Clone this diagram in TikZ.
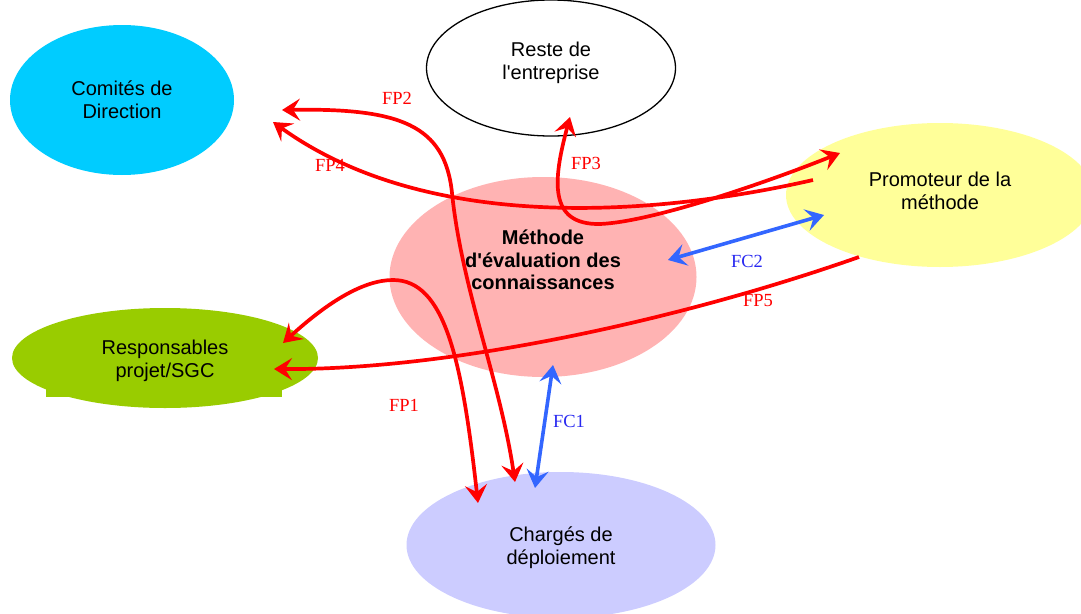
\documentclass[tikz,border=0pt]{standalone}
\usepackage{fontspec}
\setmainfont{Liberation Sans}
\newfontfamily\labelfont{Liberation Serif}
\usetikzlibrary{arrows.meta,shapes.geometric}
\definecolor{comcol}{HTML}{00CCFF}
\definecolor{procol}{HTML}{FFFF99}
\definecolor{metcol}{HTML}{FFB3B3}
\definecolor{rescol}{HTML}{99CC00}
\definecolor{chacol}{HTML}{CCCCFF}
\definecolor{fcline}{HTML}{3366FF}
\definecolor{fctext}{HTML}{2828F0}
\tikzset{
  arrhead/.tip={Stealth[length=18pt,width=22pt,inset=7pt]},
}
\begin{document}
\begin{tikzpicture}[x=1pt,y=-1pt,
  blob/.style={ellipse, inner sep=0pt},
  blobtext/.style={align=center, inner sep=0pt, font=\fontsize{20}{23}\selectfont},
  fpline/.style={draw=red, line width=3.7pt},
  fcline/.style={draw=fcline, line width=3.6pt, arrhead-arrhead},
  fplabel/.style={text=red, font=\labelfont\fontsize{18.5}{20}\selectfont, inner sep=0pt},
  fclabel/.style={text=fctext, font=\labelfont\fontsize{18.5}{20}\selectfont, inner sep=0pt}]
\useasboundingbox (0,0) rectangle (1081,613);
\begin{scope}
\clip (0,0) rectangle (1081,613);
% ellipses
\node[blob, fill=comcol, minimum width=224pt, minimum height=150pt] (com) at (122,100) {};
\node[blobtext] (comtext) at (122,100) {Comités de\\Direction};
\node[blob, draw=black, line width=1.3pt, fill=white, minimum width=249pt, minimum height=136pt] (reste) at (551,68) {};
\node[blobtext] (restetext) at (551,63) {Reste de\\l\textquotesingle entreprise};
\node[blob, fill=procol, minimum width=308pt, minimum height=144pt] (pro) at (940,195) {};
\node[blobtext] (protext) at (940,191) {Promoteur de la\\méthode};
\node[blob, fill=metcol, minimum width=307pt, minimum height=200pt] (met) at (543,277) {};
\node[align=center, inner sep=0pt, font=\bfseries\fontsize{20}{22.5}\selectfont] (mettext) at (543,260) {Méthode\\d\textquotesingle évaluation des\\connaissances};
\fill[rescol] (46,383) rectangle (282,397);
\node[blob, fill=rescol, minimum width=306pt, minimum height=100pt] (res) at (165,358) {};
\node[blobtext] (restext) at (165,361) {Responsables\\projet/SGC};
\node[blob, fill=chacol, minimum width=309pt, minimum height=146pt] (cha) at (561,545) {};
\node[blobtext] (chatext) at (561,548) {Chargés de\\déploiement};
\end{scope}
% endpoints
\coordinate (fp2a) at (282,110);
\coordinate (fp2b) at (515,482);
\coordinate (fp4a) at (813,180);
\coordinate (fp4b) at (273,122);
\coordinate (fp3a) at (570,117);
\coordinate (fp3b) at (840,153);
\coordinate (fp1a) at (283,343);
\coordinate (fp1b) at (478,503);
\coordinate (fp5a) at (859,257);
\coordinate (fp5b) at (274,369);
\coordinate (fc2a) at (668,260);
\coordinate (fc2b) at (824,215);
\coordinate (fc1a) at (553,365);
\coordinate (fc1b) at (535,488);
% connectors
\draw[fpline, arrhead-arrhead] (fp2a) .. controls (400,108) and (445,125) .. (452,193)
  .. controls (462,290) and (500,380) .. (fp2b);
\draw[fpline, -arrhead] (fp4a) .. controls (660,215) and (430,235) .. (fp4b);
\draw[fpline, arrhead-arrhead] (fp3a) .. controls (553,180) and (548,225) .. (600,224)
  .. controls (650,222) and (760,185) .. (fp3b);
\draw[fpline, arrhead-arrhead] (fp1a) .. controls (330,300) and (365,280) .. (393,280)
  .. controls (445,280) and (462,360) .. (fp1b);
\draw[fpline, -arrhead] (fp5a) .. controls (680,320) and (450,370) .. (fp5b);
\draw[fcline] (fc2a) -- (fc2b);
\draw[fcline] (fc1a) -- (fc1b);
% labels
\node[fplabel] (lfp2) at (397,98) {FP2};
\node[fplabel] (lfp4) at (330,165) {FP4};
\node[fplabel] (lfp3) at (586,163) {FP3};
\node[fplabel] (lfp5) at (758,301) {FP5};
\node[fplabel] (lfp1) at (404,405) {FP1};
\node[fclabel] (lfc2) at (747,261) {FC2};
\node[fclabel] (lfc1) at (569,421) {FC1};
\end{tikzpicture}
\end{document}
